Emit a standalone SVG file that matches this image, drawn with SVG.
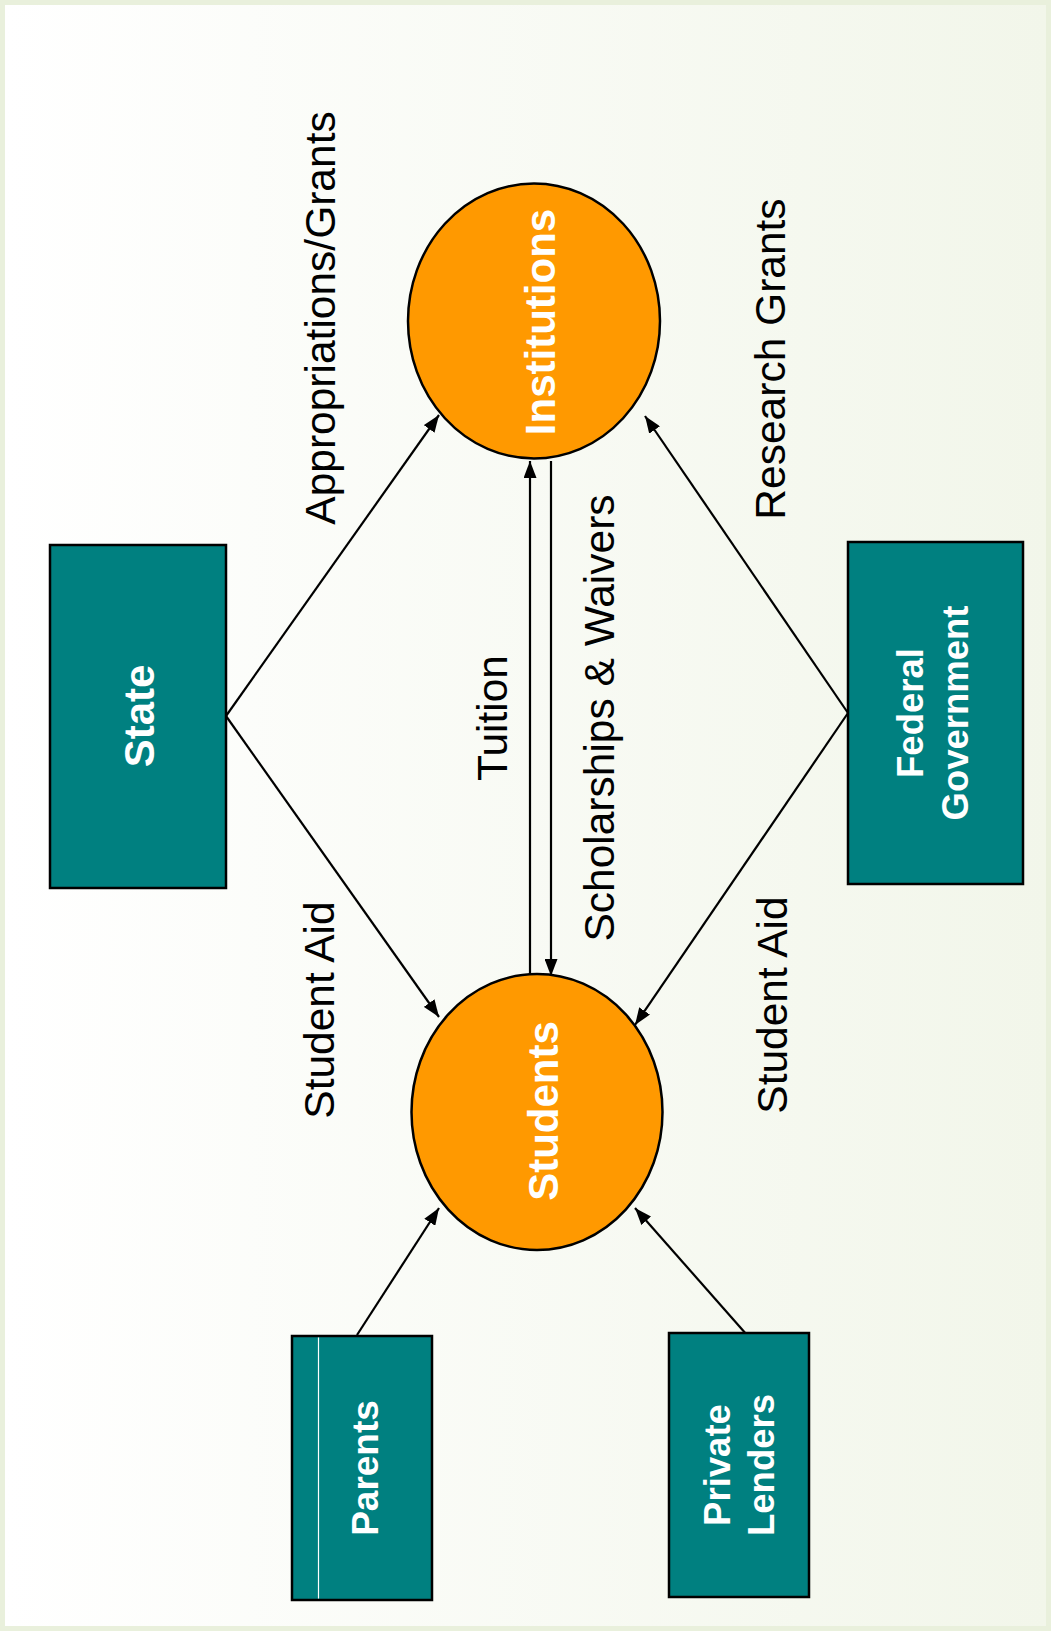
<svg xmlns="http://www.w3.org/2000/svg" width="1051" height="1631" viewBox="0 0 1051 1631">
  <defs>
    <linearGradient id="bg" x1="0" y1="0" x2="1" y2="0">
      <stop offset="0" stop-color="#FFFFFF"/>
      <stop offset="1" stop-color="#F2F6EA"/>
    </linearGradient>
    <marker id="ah" viewBox="0 0 17 13" refX="17" refY="6.5" markerWidth="17" markerHeight="13" markerUnits="userSpaceOnUse" orient="auto">
      <path d="M0,0 L17,6.5 L0,13 Z" fill="#000"/>
    </marker>
  </defs>
  <style>
    .box { fill: #008080; stroke: #000; stroke-width: 2.5; }
    .oval { fill: #FF9900; stroke: #000; stroke-width: 2.5; }
    .bold { font-family: "Liberation Sans", Arial, sans-serif; font-weight: bold; fill: #FFFFFF; text-anchor: middle; }
    .lbl { font-family: "Liberation Sans", Arial, sans-serif; font-size: 42.5px; fill: #000; text-anchor: middle; }
    .conn { stroke: #000; stroke-width: 2.2; fill: none; marker-end: url(#ah); }
  </style>

  <rect x="0" y="0" width="1051" height="1631" fill="#E9F0DC"/>
  <rect x="5" y="5" width="1041" height="1621" fill="url(#bg)"/>

  <g id="connectors">
    <line class="conn" x1="226" y1="716" x2="439" y2="415"/>
    <line class="conn" x1="226" y1="716" x2="439" y2="1017"/>
    <line class="conn" x1="848" y1="713" x2="645" y2="416"/>
    <line class="conn" x1="848" y1="713" x2="635" y2="1025"/>
    <line class="conn" x1="357" y1="1335" x2="439" y2="1208"/>
    <line class="conn" x1="747" y1="1335" x2="635" y2="1208"/>
    <line class="conn" x1="530" y1="976" x2="530" y2="461"/>
    <line class="conn" x1="551" y1="461" x2="551" y2="976"/>
  </g>

  <g id="labels">
    <text class="lbl" transform="translate(335,318) rotate(-90)">Appropriations/Grants</text>
    <text class="lbl" transform="translate(785,359) rotate(-90)">Research Grants</text>
    <text class="lbl" transform="translate(334,1010) rotate(-90)">Student Aid</text>
    <text class="lbl" transform="translate(787,1005) rotate(-90)">Student Aid</text>
    <text class="lbl" transform="translate(507,718) rotate(-90)">Tuition</text>
    <text class="lbl" transform="translate(614,718) rotate(-90)">Scholarships &amp; Waivers</text>
  </g>

  <g id="node-institutions">
    <ellipse class="oval" cx="534" cy="321" rx="126" ry="137.5"/>
    <text class="bold" font-size="42" transform="translate(555,322) rotate(-90)">Institutions</text>
  </g>

  <g id="node-students">
    <ellipse class="oval" cx="537" cy="1112" rx="125.5" ry="138"/>
    <text class="bold" font-size="42" transform="translate(558,1111) rotate(-90)">Students</text>
  </g>

  <g id="node-state">
    <rect class="box" x="50" y="545" width="176" height="343"/>
    <text class="bold" font-size="42" transform="translate(154,716) rotate(-90)">State</text>
  </g>

  <g id="node-federal">
    <rect class="box" x="848" y="542" width="175" height="342"/>
    <text class="bold" font-size="36.5" transform="translate(923,713) rotate(-90)">Federal</text>
    <text class="bold" font-size="36.5" transform="translate(968,713) rotate(-90)">Government</text>
  </g>

  <g id="node-parents">
    <rect class="box" x="292" y="1336" width="140" height="264"/>
    <line x1="318.5" y1="1337.5" x2="318.5" y2="1598.5" stroke="#FFFFFF" stroke-width="1.2"/>
    <text class="bold" font-size="37" transform="translate(378,1468) rotate(-90)">Parents</text>
  </g>

  <g id="node-lenders">
    <rect class="box" x="669" y="1333" width="140" height="264"/>
    <text class="bold" font-size="36.5" transform="translate(730,1465) rotate(-90)">Private</text>
    <text class="bold" font-size="36.5" transform="translate(774,1465) rotate(-90)">Lenders</text>
  </g>
</svg>
